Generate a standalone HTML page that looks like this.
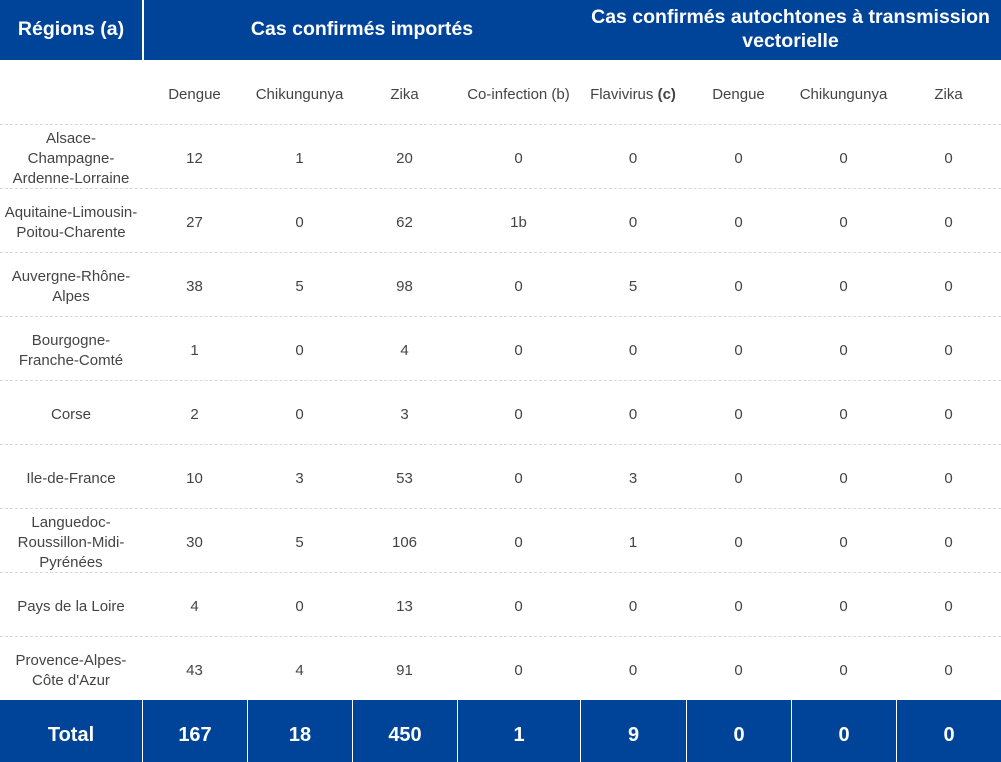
<!DOCTYPE html>
<html><head><meta charset="utf-8"><style>
*{margin:0;padding:0;box-sizing:border-box}
body{width:1001px;height:762px;background:#fff;font-family:"Liberation Sans",Arial,sans-serif;position:relative;overflow:hidden}
.hd{position:absolute;top:0;height:60px;background:#00449a;color:#fff;font-weight:bold;font-size:19.5px;display:flex;align-items:center;justify-content:center;text-align:center;line-height:24px;padding-bottom:2px}
.c{position:absolute;display:flex;align-items:center;justify-content:center;text-align:center;font-size:15px;color:#444;line-height:20px;padding-top:6px}
.ln{position:absolute;left:0;width:1001px;border-top:1px dashed #d8d8d8}
.tot{position:absolute;top:700px;height:62px;background:#00449a;color:#fff;font-weight:bold;font-size:20px;display:flex;align-items:center;justify-content:center;padding-top:8px}
</style></head><body>
<div class="hd" style="left:0;width:142px">Régions (a)</div>
<div class="hd" style="left:143px;width:437px;border-left:1px solid #fff">Cas confirmés importés</div>
<div class="hd" style="left:580px;width:421px">Cas confirmés autochtones à transmission vectorielle</div>
<div id="g"></div>
<script>
var xs=[0,142,247,352,457,580,686,791,896,1001];
var sub=["","Dengue","Chikungunya","Zika","Co-infection (b)","Flavivirus&nbsp;<b>(c)</b>","Dengue","Chikungunya","Zika"];
var rows=[["Alsace-<br>Champagne-<br>Ardenne-Lorraine",12,1,20,0,0,0,0,0],
["Aquitaine-Limousin-<br>Poitou-Charente",27,0,62,"1b",0,0,0,0],
["Auvergne-Rhône-<br>Alpes",38,5,98,0,5,0,0,0],
["Bourgogne-<br>Franche-Comté",1,0,4,0,0,0,0,0],
["Corse",2,0,3,0,0,0,0,0],
["Ile-de-France",10,3,53,0,3,0,0,0],
["Languedoc-<br>Roussillon-Midi-<br>Pyrénées",30,5,106,0,1,0,0,0],
["Pays de la Loire",4,0,13,0,0,0,0,0],
["Provence-Alpes-<br>Côte d'Azur",43,4,91,0,0,0,0,0]];
var tot=["Total",167,18,450,1,9,0,0,0];
var h="";
function cell(i,y,hh,t){return '<div class="c" style="left:'+xs[i]+'px;width:'+(xs[i+1]-xs[i])+'px;top:'+y+'px;height:'+hh+'px">'+t+'</div>';}
for(var i=0;i<9;i++)h+=cell(i,60,64,sub[i]);
h+='<div class="ln" style="top:124px"></div>';
rows.forEach(function(r,k){var y=124+k*64;for(var i=0;i<9;i++)h+=cell(i,y,64,r[i]);if(k<8)h+='<div class="ln" style="top:'+(y+64)+'px"></div>';});
for(var i=0;i<9;i++)h+='<div class="tot" style="left:'+(xs[i]+(i?1:0))+'px;width:'+(xs[i+1]-xs[i]-(i?1:0))+'px">'+tot[i]+'</div>';
document.getElementById("g").innerHTML=h;
</script>
</body></html>
